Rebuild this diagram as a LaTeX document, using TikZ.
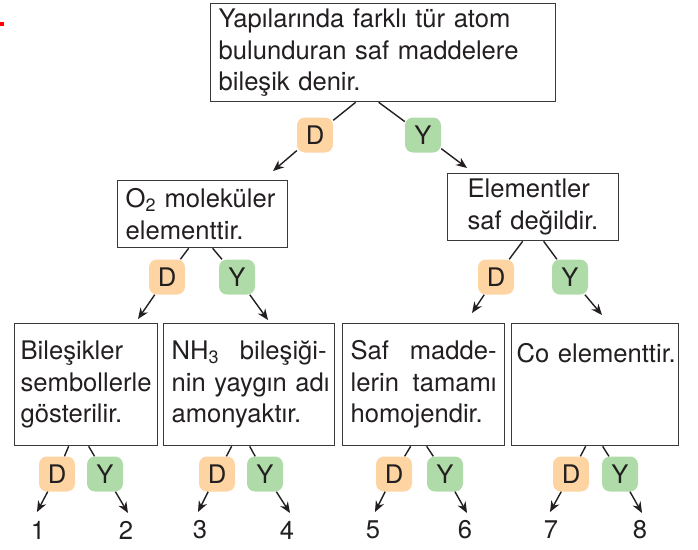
\documentclass[tikz,border=0pt]{standalone}
\usepackage{fontspec}
\setmainfont{TeX Gyre Heros}
\usetikzlibrary{arrows.meta,calc}

\definecolor{ink}{HTML}{231F20}
\definecolor{frame}{HTML}{3A3A3A}
\definecolor{dfill}{HTML}{FDD4A2}
\definecolor{yfill}{HTML}{AFDBA9}

\tikzset{
  big/.style={font=\fontsize{25.6}{31.5}\selectfont},
  box/.style={big,draw=frame,line width=1.3pt,text=ink,align=left,
    anchor=north west,inner ysep=0pt},
  dbadge/.style={big,fill=dfill,text=ink,rounded corners=8pt,
    minimum width=36pt,minimum height=35pt,inner sep=0pt},
  ybadge/.style={dbadge,fill=yfill},
  arr/.style={draw=ink,line width=1.4pt,-{Stealth[length=11pt,width=9pt]}},
  num/.style={big,text=ink,inner sep=0pt}
}

\begin{document}
\begin{tikzpicture}[x=1pt,y=-1pt]
  \useasboundingbox (0,0) rectangle (698,549);
  \fill[red] (0,22) rectangle (4,26);

  % boxes
  \node[box,text width=329,inner xsep=8,minimum height=98] (top) at (210,3)
    {Yapılarında farklı tür atom\\bulunduran saf maddelere\\bileşik denir.};
  \node[box,text width=154,inner xsep=8,minimum height=67] (o2) at (117,180)
    {O\textsubscript{2} moleküler\\elementtir.};
  \node[box,text width=131,minimum width=171,minimum height=67] (elem) at (447,173)
    {Elementler\\saf değildir.};
  \node[box,text width=131,inner xsep=6,minimum height=122] (bil) at (14,323)
    {Bileşikler\\\mbox{sembollerle}\\gösterilir.};
  \node[box,text width=155,inner xsep=8,minimum height=122] (nh3) at (163,323)
    {NH\textsubscript{3}\hfill bileşiği-\\\mbox{nin yaygın adı}\\amonyaktır.};
  \node[box,text width=146,inner xsep=8,minimum height=122] (saf) at (342,323)
    {Saf\hfill madde-\\lerin\hfill tamamı\\homojendir.};
  \node[box,text width=157,inner xsep=5,minimum height=122] (co) at (511,323)
    {\mbox{Co elementtir.}\\\mbox{}\\\mbox{}};

  % badges
  \node[dbadge] (topD) at (315,135) {D};
  \node[ybadge] (topY) at (423,135) {Y};
  \node[dbadge] (o2D) at (167,277) {D};
  \node[ybadge] (o2Y) at (237,277) {Y};
  \node[dbadge] (elemD) at (496,277) {D};
  \node[ybadge] (elemY) at (570,277) {Y};
  \node[dbadge] (bilD) at (57,474) {D};
  \node[ybadge] (bilY) at (105,474) {Y};
  \node[dbadge] (nh3D) at (217,474) {D};
  \node[ybadge] (nh3Y) at (265,474) {Y};
  \node[dbadge] (safD) at (394,474) {D};
  \node[ybadge] (safY) at (445,474) {Y};
  \node[dbadge] (coD) at (571,474) {D};
  \node[ybadge] (coY) at (620,474) {Y};

  % arrow ends
  \coordinate (o2in) at (273,171);
  \coordinate (elemin) at (467,168);
  \coordinate (bilin) at (138,319);
  \coordinate (nh3in) at (268,320);
  \coordinate (safin) at (472,313);
  \coordinate (coin) at (602,315);
  \coordinate (e1) at (37,512);
  \coordinate (e2) at (128,513);
  \coordinate (e3) at (198,512);
  \coordinate (e4) at (290,513);
  \coordinate (e5) at (375,512);
  \coordinate (e6) at (467,513);
  \coordinate (e7) at (550,512);
  \coordinate (e8) at (642,513);

  % numbers
  \node[num] (n1) at (38,530) {1};
  \node[num] (n2) at (126,530) {2};
  \node[num] (n3) at (200,530) {3};
  \node[num] (n4) at (287,530) {4};
  \node[num] (n5) at (373,530) {5};
  \node[num] (n6) at (465,530) {6};
  \node[num] (n7) at (551,530) {7};
  \node[num] (n8) at (640,530) {8};

  % connectors
  \draw[arr] ($(top.south)+(-27.5,0)$) -- (topD) -- (o2in);
  \draw[arr] ($(top.south)+(-4.5,0)$) -- (topY) -- (elemin);
  \draw[arr] ($(o2.south)+(-14,0)$) -- (o2D) -- (bilin);
  \draw[arr] ($(o2.south)+(10,0)$) -- (o2Y) -- (nh3in);
  \draw[arr] ($(elem.south)+(-10.5,0)$) -- (elemD) -- (safin);
  \draw[arr] ($(elem.south)+(10.5,0)$) -- (elemY) -- (coin);
  \draw[arr] ($(bil.south)+(-17.5,0)$) -- (bilD) -- (e1);
  \draw[arr] ($(bil.south)+(2.5,0)$) -- (bilY) -- (e2);
  \draw[arr] ($(nh3.south)+(-17.5,0)$) -- (nh3D) -- (e3);
  \draw[arr] ($(nh3.south)+(0.5,0)$) -- (nh3Y) -- (e4);
  \draw[arr] ($(saf.south)+(-13,0)$) -- (safD) -- (e5);
  \draw[arr] ($(saf.south)+(3,0)$) -- (safY) -- (e6);
  \draw[arr] ($(co.south)+(-9.5,0)$) -- (coD) -- (e7);
  \draw[arr] ($(co.south)+(7.5,0)$) -- (coY) -- (e8);
\end{tikzpicture}
\end{document}
